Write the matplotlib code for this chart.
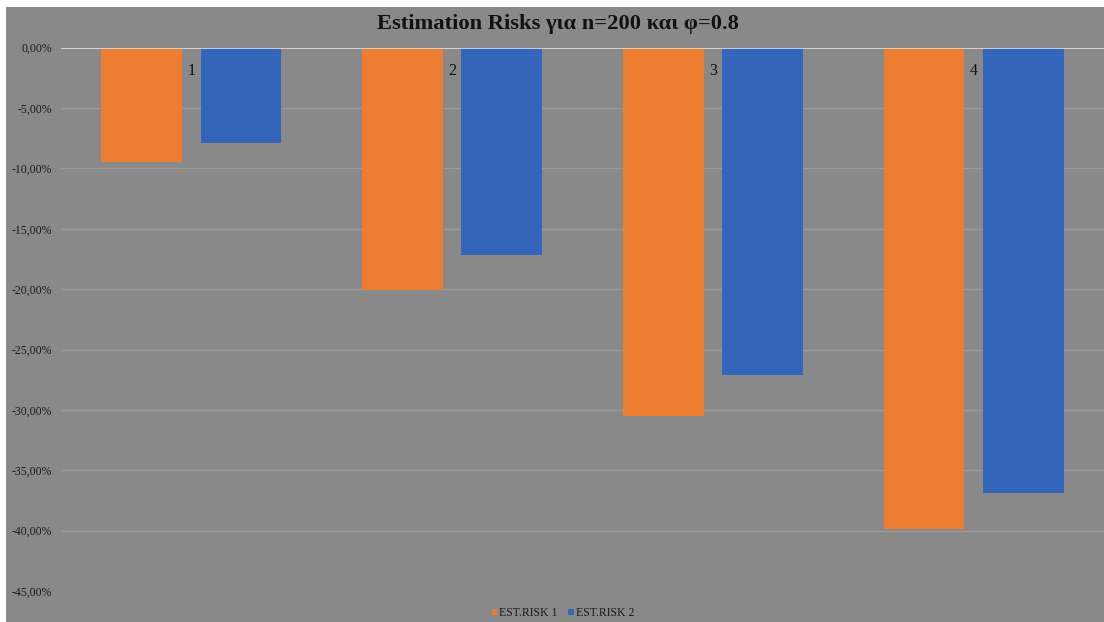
import matplotlib
matplotlib.use("Agg")
import matplotlib.pyplot as plt
from matplotlib.patches import Rectangle
import numpy as np

categories = ["1", "2", "3", "4"]
est_risk_1 = [-9.5, -20.1, -30.5, -39.9]
est_risk_2 = [-7.9, -17.2, -27.1, -36.9]
series_names = ["EST.RISK 1", "EST.RISK 2"]
yticks = [0, -5, -10, -15, -20, -25, -30, -35, -40, -45]
title = "Estimation Risks για n=200 και φ=0.8"

BG = "#898989"
ORANGE = "#ED7D31"
BLUE = "#3366BB"
SERIF = ["Liberation Serif", "DejaVu Serif"]

W, H = 1104, 622
fig = plt.figure(figsize=(W / 100, H / 100), dpi=100)
fig.patch.set_facecolor("white")
fig.patches.append(Rectangle((6 / W, 0), 1 - 6 / W, 1 - 7 / H,
                             transform=fig.transFigure, facecolor=BG,
                             edgecolor="none", zorder=-10))

left, right = 61 / W, 1.0
top, bottom = 1 - 47.7 / H, 1 - 591 / H
ax = fig.add_axes([left, bottom, right - left, top - bottom])
ax.set_zorder(5)
ax.set_facecolor("none")

x = np.arange(len(categories))
bw = 0.31
off = 0.19
ax.bar(x - off, est_risk_1, bw, color=ORANGE, label=series_names[0], zorder=3)
ax.bar(x + off, est_risk_2, bw, color=BLUE, label=series_names[1], zorder=3)

ax.set_xlim(-0.5, len(categories) - 0.5)
ax.set_ylim(-45, 0)
for s in ax.spines.values():
    s.set_visible(False)
ax.set_yticks(yticks)
ax.set_yticklabels([f"{v:.2f}".replace(".", ",") + "%" for v in yticks],
                   fontfamily=SERIF, fontsize=8.5, color="#1a1a1a")
ax.tick_params(axis="y", length=0, pad=6.5)
ax.set_xticks([])
for v in yticks:
    if v == 0:
        continue
    ax.axhline(v, color="#9b9b9b", lw=1.0, zorder=1)
ax.axhline(0, color="#e0e0e0", lw=1.2, zorder=4)

for i, c in enumerate(categories):
    ax.text(i, -1.9, c, ha="center", va="center", fontfamily=SERIF,
            fontsize=11.5, color="#111111", zorder=5)

fig.text(558 / W, 1 - 24 / H, title, ha="center", va="center",
         fontfamily=SERIF, fontweight="bold", fontsize=16.2, color="#111111")

leg = fig.legend(loc="center", bbox_to_anchor=(563 / W, 1 - 613 / H),
                 ncol=2, frameon=False, prop={"family": SERIF, "size": 8.5},
                 handlelength=0.45, handleheight=0.45, handletextpad=0.2,
                 columnspacing=0.9, borderaxespad=0, borderpad=0)
for t in leg.get_texts():
    t.set_color("#1a1a1a")

fig.savefig("out.png", dpi=100, facecolor=fig.get_facecolor())
